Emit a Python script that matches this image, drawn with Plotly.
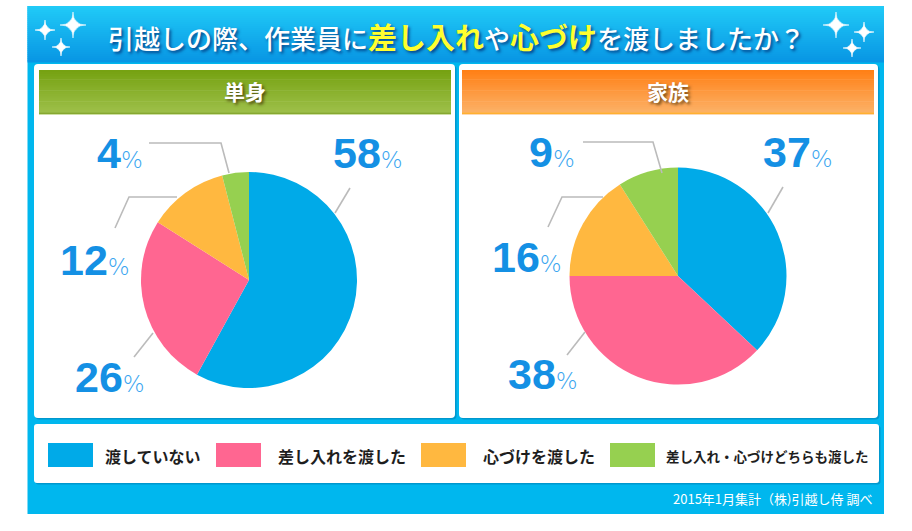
import plotly.graph_objects as go

# ---------------- data ----------------
categories = ["渡していない", "差し入れを渡した", "心づけを渡した", "差し入れ・心づけどちらも渡した"]
single_values = [58, 26, 12, 4]
family_values = [37, 38, 16, 9]
panel_titles = ["単身", "家族"]
slice_colors = ["#00AAE8", "#FF6691", "#FFB840", "#96D050"]

W, H = 912, 531
fig = go.Figure()

def lerp(c1, c2, t):
    return "rgb(%d,%d,%d)" % tuple(round(a + (b - a) * t) for a, b in zip(c1, c2))

def rrect(x0, y0, x1, y1, r):
    return (f"M{x0+r},{y0} L{x1-r},{y0} Q{x1},{y0} {x1},{y0+r} L{x1},{y1-r} Q{x1},{y1} {x1-r},{y1} "
            f"L{x0+r},{y1} Q{x0},{y1} {x0},{y1-r} L{x0},{y0+r} Q{x0},{y0} {x0+r},{y0} Z")

shapes = []
def rect(x0, y0, x1, y1, color, layer="below"):
    shapes.append(dict(type="rect", xref="x", yref="y", x0=x0, y0=y0, x1=x1, y1=y1,
                       fillcolor=color, line=dict(width=0), layer=layer))

def gradient(x0, y0, x1, y1, c_top, c_bot, n=24):
    h = (y1 - y0) / n
    for i in range(n):
        rect(x0, y0 + i * h, x1, y0 + (i + 1) * h + 0.6, lerp(c_top, c_bot, i / (n - 1)))

# outer frame
rect(27.5, 6, 884, 514, "#00B7EE")
gradient(27.5, 6, 884, 62, (32, 202, 247), (8, 150, 228), 28)

# panels
for (px0, px1) in [(34, 455), (459, 878)]:
    shapes.append(dict(type="path", xref="x", yref="y", path=rrect(px0 + 1.5, 65.5, px1 + 1.5, 419.5, 4),
                       fillcolor="rgba(0,60,110,0.25)", line=dict(width=0), layer="below"))
    shapes.append(dict(type="path", xref="x", yref="y", path=rrect(px0, 64, px1, 418, 4),
                       fillcolor="white", line=dict(width=0), layer="below"))

# headers
gradient(39, 70, 451, 114, (118, 162, 18), (158, 192, 74))
rect(39, 112.5, 451, 114, "#86A830")
gradient(462, 70, 874, 114, (255, 128, 22), (252, 178, 104))
rect(462, 112.5, 874, 114, "#FFB030")

# legend box
shapes.append(dict(type="path", xref="x", yref="y", path=rrect(35.5, 425.5, 880.5, 484.5, 3),
                   fillcolor="rgba(0,60,110,0.25)", line=dict(width=0), layer="below"))
shapes.append(dict(type="path", xref="x", yref="y", path=rrect(34, 424, 879, 483, 3),
                   fillcolor="white", line=dict(width=0), layer="below"))

# sparkles
def sparkle(cx, cy, r):
    shapes.append(dict(type="circle", xref="x", yref="y", x0=cx - r * 0.45, y0=cy - r * 0.45,
                       x1=cx + r * 0.45, y1=cy + r * 0.45, fillcolor="rgba(255,255,255,0.35)",
                       line=dict(width=0), layer="above"))
    p = (f"M{cx},{cy-r} Q{cx},{cy} {cx+r},{cy} Q{cx},{cy} {cx},{cy+r} "
         f"Q{cx},{cy} {cx-r},{cy} Q{cx},{cy} {cx},{cy-r} Z")
    shapes.append(dict(type="path", xref="x", yref="y", path=p, fillcolor="white",
                       line=dict(width=0.6, color="white"), layer="above"))

for cx, cy, r in [(73, 25, 13), (45, 30, 10), (61, 47, 9), (836, 25, 13), (864, 32, 10), (852, 48, 9)]:
    sparkle(cx, cy, r)

# leader lines
lead = [
    [(335, 213), (350, 188)],
    [(229, 173), (221, 143), (149, 143)],
    [(177, 197), (129, 197), (115, 228)],
    [(153, 333), (134, 357)],
    [(768, 213), (783, 187)],
    [(662, 173), (653, 142), (583, 142)],
    [(603, 197), (562, 197), (548, 227)],
    [(585, 332), (567, 355)],
]
for pts in lead:
    p = "M" + " L".join(f"{x},{y}" for x, y in pts)
    shapes.append(dict(type="path", xref="x", yref="y", path=p,
                       line=dict(color="#BBBBBB", width=1.6), layer="above"))

# legend squares
sq_x = [48, 216, 421, 610]
for x0, c in zip(sq_x, slice_colors):
    rect(x0, 443, x0 + 45, 467, c, layer="above")

# ---------------- pies ----------------
def pie(values, cx, cy, r):
    fig.add_trace(go.Pie(
        labels=categories, values=values, sort=False, direction="clockwise", rotation=0,
        marker=dict(colors=slice_colors, line=dict(width=0)),
        textinfo="none", hoverinfo="label+percent", showlegend=False,
        domain=dict(x=[(cx - r) / W, (cx + r) / W], y=[(H - cy - r) / H, (H - cy + r) / H]),
    ))

pie(single_values, 249, 280, 108)
pie(family_values, 678, 276, 108.5)

# ---------------- annotations ----------------
ann = []
num_blue = "#1490E4"
pct_blue = "#3AA6F0"
def label(val, x, y):
    ann.append(dict(xref="x", yref="y", x=x - 2, y=y - 1, xanchor="left", yanchor="middle",
                    text=(f"<b>{val}</b><span style='font-size:23px;font-weight:normal;"
                          f"color:{pct_blue};font-family:DejaVu Sans Light, Liberation Sans'>%</span>"),
                    showarrow=False,
                    font=dict(family="Liberation Sans, Arial", size=43, color=num_blue)))

for v, (x, y) in zip(single_values, [(333, 154), (75, 378), (60, 261), (97, 154)]):
    label(v, x, y)
for v, (x, y) in zip(family_values, [(763, 153), (508, 375), (492, 258), (529, 153)]):
    label(v, x, y)

# title
yellow = "#FFFF2E"
title = ("引越しの際、作業員に"
         f"<span style='color:{yellow};font-size:29px;font-weight:bold'>差し入れ</span>"
         "や"
         f"<span style='color:{yellow};font-size:29px;font-weight:bold'>心づけ</span>"
         "を渡しましたか？")
ann.append(dict(xref="x", yref="y", x=456, y=36, xanchor="center", yanchor="middle", text=title,
                showarrow=False,
                font=dict(family="Noto Sans CJK JP", size=26, color="white", weight=500,
                          shadow="2px 2px 3px rgba(0,40,110,0.75)")))

# panel headers
for t, cx in zip(panel_titles, [245, 668]):
    ann.append(dict(xref="x", yref="y", x=cx, y=91, xanchor="center", yanchor="middle", text=f"<b>{t}</b>",
                    showarrow=False,
                    font=dict(family="Noto Sans CJK JP", size=21, color="white",
                              shadow="2px 2px 3px rgba(60,40,0,0.7)")))

# legend labels
leg_text_x = [103, 276, 481, 664]
leg_sizes = [16, 16, 16, 13.5]
for t, x, s in zip(categories, leg_text_x, leg_sizes):
    ann.append(dict(xref="x", yref="y", x=x, y=456, xanchor="left", yanchor="middle", text=f"<b>{t}</b>",
                    showarrow=False, font=dict(family="Noto Sans CJK JP", size=s, color="#1E1E1E")))

# footer
ann.append(dict(xref="x", yref="y", x=874, y=498, xanchor="right", yanchor="middle",
                text="2015年1月集計（株)引越し侍 調べ", showarrow=False,
                font=dict(family="Noto Sans CJK JP", size=13, color="white")))

fig.update_layout(
    width=W, height=H, margin=dict(l=0, r=0, t=0, b=0),
    paper_bgcolor="white", plot_bgcolor="rgba(0,0,0,0)",
    xaxis=dict(range=[0, W], visible=False, fixedrange=True),
    yaxis=dict(range=[H, 0], visible=False, fixedrange=True),
    shapes=shapes, annotations=ann, showlegend=False,
)

fig.write_html("out.html", config={"displayModeBar": False})

# remove the browser's default page margin so the figure sits at (0, 0)
with open("out.html", encoding="utf-8") as f:
    html = f.read()
html = html.replace("<body>", "<body style=\"margin:0;padding:0;overflow:hidden\">", 1)
with open("out.html", "w", encoding="utf-8") as f:
    f.write(html)
